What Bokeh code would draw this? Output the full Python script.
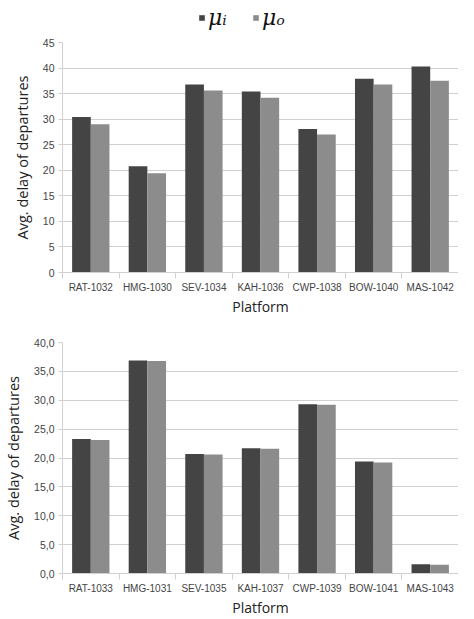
from bokeh.plotting import figure
from bokeh.layouts import column
from bokeh.models import ColumnDataSource, FixedTicker, Range1d, Legend, LegendItem
from bokeh.transform import dodge
from bokeh.embed import file_html
from bokeh.resources import INLINE

platforms_top = ["RAT-1032", "HMG-1030", "SEV-1034", "KAH-1036", "CWP-1038", "BOW-1040", "MAS-1042"]
mu_i_top = [30.4, 20.8, 36.8, 35.4, 28.1, 37.9, 40.3]
mu_o_top = [29.0, 19.4, 35.6, 34.2, 27.0, 36.8, 37.5]
yticks_top = [0, 5, 10, 15, 20, 25, 30, 35, 40, 45]

platforms_bot = ["RAT-1033", "HMG-1031", "SEV-1035", "KAH-1037", "CWP-1039", "BOW-1041", "MAS-1043"]
mu_i_bot = [23.3, 36.9, 20.7, 21.7, 29.3, 19.4, 1.6]
mu_o_bot = [23.1, 36.8, 20.6, 21.6, 29.2, 19.2, 1.5]
yticks_bot = [0, 5, 10, 15, 20, 25, 30, 35, 40]

series_labels = ["\u03bc\u1d62", "\u03bc\u2092"]
DARK = "#444444"
LIGHT = "#8c8c8c"
GRID = "#d0d0d0"
TXT = "#444444"

BW = 0.33
OFF = 0.165


def make(cats, vi, vo, yticks, ymax, height, left, top, bottom, decimals):
    n = len(cats)
    centers = [k + 0.5 for k in range(n)]
    src = ColumnDataSource(dict(x=centers, cat=cats, vi=vi, vo=vo))
    p = figure(width=458, height=height, output_backend="svg", toolbar_location=None,
               x_range=Range1d(0, n), y_range=Range1d(0, ymax),
               min_border_left=left, min_border_right=0, min_border_top=top,
               min_border_bottom=bottom)
    p.vbar(x=dodge("x", -OFF), top="vi", width=BW, source=src, fill_color=DARK, line_color=None)
    p.vbar(x=dodge("x", OFF), top="vo", width=BW, source=src, fill_color=LIGHT, line_color=None)
    p.outline_line_color = None
    p.background_fill_color = "white"
    p.xgrid.grid_line_color = None
    p.ygrid.grid_line_color = GRID
    p.ygrid.grid_line_width = 1

    p.xaxis.ticker = FixedTicker(ticks=centers, minor_ticks=list(range(n + 1)))
    p.xaxis.major_label_overrides = {c: cats[k] for k, c in enumerate(centers)}
    p.xaxis.major_tick_line_color = None
    p.xaxis.major_tick_out = 0
    p.xaxis.major_tick_in = 0
    p.xaxis.minor_tick_line_color = GRID
    p.xaxis.minor_tick_out = 6
    p.xaxis.minor_tick_in = 0
    p.xaxis.axis_line_color = GRID
    p.xaxis.major_label_text_font = "Liberation Sans"
    p.xaxis.major_label_text_font_size = "10px"
    p.xaxis.major_label_text_color = TXT
    p.xaxis.major_label_standoff = 3
    p.xaxis.axis_label = "Platform"
    p.xaxis.axis_label_text_font = "Open Sans"
    p.xaxis.axis_label_text_font_style = "normal"
    p.xaxis.axis_label_text_font_size = "14px"
    p.xaxis.axis_label_text_color = "#222222"
    p.xaxis.axis_label_standoff = 1

    p.yaxis.ticker = FixedTicker(ticks=yticks)
    if decimals:
        p.yaxis.major_label_overrides = {t: ("%.1f" % t).replace(".", ",") for t in yticks}
    p.yaxis.major_tick_line_color = GRID
    p.yaxis.major_tick_out = 4
    p.yaxis.major_tick_in = 0
    p.yaxis.minor_tick_line_color = None
    p.yaxis.axis_line_color = GRID
    p.yaxis.major_label_text_font = "Liberation Sans"
    p.yaxis.major_label_text_font_size = "10.5px"
    p.yaxis.major_label_text_color = TXT
    p.yaxis.major_label_standoff = 4
    p.yaxis.axis_label = "Avg. delay of departures"
    p.yaxis.axis_label_text_font = "Open Sans"
    p.yaxis.axis_label_text_font_style = "normal"
    p.yaxis.axis_label_text_font_size = "14.5px"
    p.yaxis.axis_label_text_color = "#222222"
    p.yaxis.axis_label_standoff = 8
    return p, src


p1, src1 = make(platforms_top, mu_i_top, mu_o_top, yticks_top, 45, 284, 58, 8, 44, False)
p2, _ = make(platforms_bot, mu_i_bot, mu_o_bot, yticks_bot, 40, 301, 62, 24, 43, True)

# legend strip: the series' renderers sit far outside both of its ranges, so only the legend shows
pl = figure(width=458, height=34, output_backend="svg", toolbar_location=None,
            x_range=Range1d(1000, 1007), y_range=Range1d(1000, 1001),
            x_axis_type=None, y_axis_type=None,
            min_border_left=0, min_border_right=0, min_border_top=0, min_border_bottom=0)
pl.outline_line_color = None
pl.xgrid.grid_line_color = None
pl.ygrid.grid_line_color = None
lr1 = pl.vbar(x=dodge("x", -OFF), top="vi", width=BW, source=src1, fill_color=DARK, line_color=None)
lr2 = pl.vbar(x=dodge("x", OFF), top="vo", width=BW, source=src1, fill_color=LIGHT, line_color=None)
leg = Legend(items=[LegendItem(label=series_labels[0], renderers=[lr1]),
                    LegendItem(label=series_labels[1], renderers=[lr2])],
             orientation="horizontal", location=(136, 4),
             glyph_width=7, glyph_height=7, label_text_font="DejaVu Serif",
             label_text_font_style="italic", label_text_font_size="22px",
             label_text_color="#111111", border_line_color=None,
             background_fill_alpha=0, spacing=24, padding=0, margin=0,
             label_standoff=3, label_height=26)
pl.add_layout(leg, "center")

p = column(pl, p1, p2, spacing=0)
open("out.html", "w").write(file_html(p, INLINE))
